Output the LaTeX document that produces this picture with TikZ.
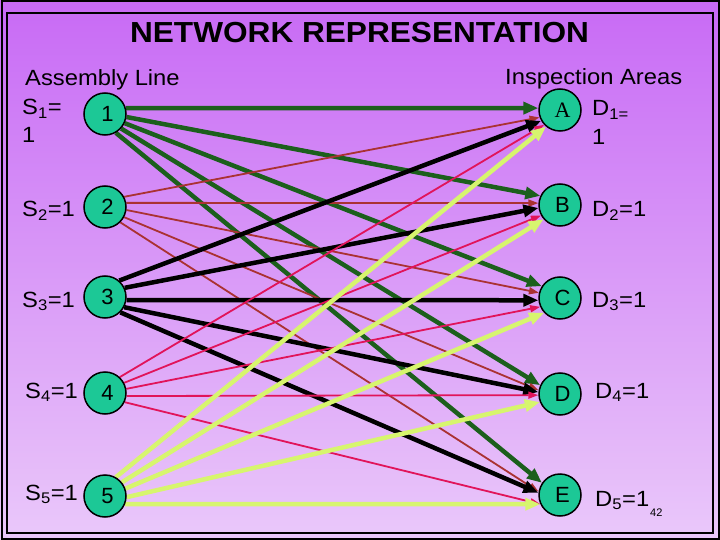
\documentclass[tikz,border=0pt]{standalone}
\usepackage{fontspec}
\setmainfont{Liberation Sans}
\newfontfamily\serifA{Liberation Serif}
\usetikzlibrary{arrows.meta}
\pgfdeclarelayer{bg}
\pgfdeclarelayer{edges}
\pgfsetlayers{bg,edges,main}
\definecolor{bgtop}{RGB}{200,106,245}
\definecolor{bgbot}{RGB}{234,200,250}
\definecolor{nodefill}{RGB}{28,200,150}
\definecolor{edgegreen}{RGB}{28,95,28}
\definecolor{edgebrown}{RGB}{170,50,50}
\definecolor{edgepink}{RGB}{225,20,90}
\definecolor{edgeyellow}{RGB}{215,245,110}
\newcommand{\ntxt}[1]{\mbox{\hspace{5pt}\raisebox{-3pt}{#1}}}
\newcommand{\wx}[1]{\scalebox{1.08}[1]{#1}}
\tikzset{
  vtx/.style={circle,draw=black,line width=1.5pt,fill=nodefill,minimum size=42pt,inner sep=0pt,font=\fontsize{22}{22}\selectfont},
  lbl/.style={font=\fontsize{22}{26}\selectfont,inner sep=0pt,anchor=base west},
  thk/.style={line width=4.5pt,-{Triangle[length=15pt,width=12pt]}},
  thn/.style={line width=1.8pt,-{Triangle[length=10pt,width=7pt]}},
  eg/.style={thk,draw=edgegreen},
  eb/.style={thn,draw=edgebrown},
  ek/.style={thk,draw=black},
  ep/.style={thn,draw=edgepink},
  ey/.style={thk,draw=edgeyellow},
}
\begin{document}
\begin{tikzpicture}[x=1pt,y=-1pt]
\useasboundingbox (0,0) rectangle (720,540);
\begin{pgfonlayer}{bg}
\shade[top color=bgtop,bottom color=bgbot] (0,0) rectangle (720,540);
\draw[line width=2pt] (1.5,1.5) rectangle (718.5,538.5);
\draw[line width=2pt] (7,13) rectangle (713,533);
\end{pgfonlayer}

\node[anchor=base,inner sep=0pt,font=\fontsize{29}{32}\selectfont\bfseries] (title) at (359.5,43) {\scalebox{1.09}[1]{NETWORK REPRESENTATION}};
\node[lbl] (asm) at (25,86) {\wx{Assembly Line}};
\node[lbl] (insp) at (505,85) {\wx{Inspection Areas}};

\node[vtx] (n1) at (105,114) {\ntxt{1}};
\node[vtx] (n2) at (105,207) {\ntxt{2}};
\node[vtx] (n3) at (105,297) {\ntxt{3}};
\node[vtx] (n4) at (105,393) {\ntxt{4}};
\node[vtx] (n5) at (105,496) {\ntxt{5}};
\node[vtx] (A) at (560,110) {\ntxt{\serifA A}};
\node[vtx] (B) at (560,205) {\ntxt{B}};
\node[vtx] (C) at (560,298) {\ntxt{C}};
\node[vtx] (D) at (560,394) {\ntxt{D}};
\node[vtx] (E) at (560,495) {\ntxt{E}};

\node[lbl] (s1a) at (22,115) {\wx{S\textsubscript{1}=}};
\node[lbl] (s1b) at (22,143) {\wx{1}};
\node[lbl] (s2) at (22,217) {\wx{S\textsubscript{2}=1}};
\node[lbl] (s3) at (22,307) {\wx{S\textsubscript{3}=1}};
\node[lbl] (s4) at (25,398) {\wx{S\textsubscript{4}=1}};
\node[lbl] (s5) at (25,500) {\wx{S\textsubscript{5}=1}};
\node[lbl] (d1a) at (592,116) {\wx{D\textsubscript{1=}}};
\node[lbl] (d1b) at (592,145) {\wx{1}};
\node[lbl] (d2) at (592,217) {\wx{D\textsubscript{2}=1}};
\node[lbl] (d3) at (592,307) {\wx{D\textsubscript{3}=1}};
\node[lbl] (d4) at (595,398) {\wx{D\textsubscript{4}=1}};
\node[lbl] (d5) at (595,506) {\wx{D\textsubscript{5}=1}};
\node[inner sep=0pt,anchor=base west,font=\fontsize{11}{12}\selectfont] (pg) at (650,516) {42};

\begin{pgfonlayer}{edges}
% from 1 (green)
\draw[eg] (n1.16) -- (A.175);
\draw[eg] (n1.-8) -- (B.155);
\draw[eg] (n1.-25) -- (C.147);
\draw[eg] (n1.-42) -- (D.156);
\draw[eg] (n1.-60) -- (E.146);
% from 2 (brown)
\draw[eb] (n2.28) -- (A.200);
\draw[eb] (n2.11) -- (B.175);
\draw[eb] (n2.-8) -- (C.166);
\draw[eb] (n2.-28) -- (D.170);
\draw[eb] (n2.-45) -- (E.171);
% from 3 (black)
\draw[ek] (n3.49) -- (A.210);
\draw[ek] (n3.25) -- (B.188);
\draw[ek] (n3.-8) -- (C.186);
\draw[ek] (n3.-28) -- (D.175);
\draw[ek] (n3.-45) -- (E.174);
% from 4 (pink)
\draw[ep] (n4.47) -- (A.223);
\draw[ep] (n4.28) -- (B.209);
\draw[ep] (n4.11) -- (C.204);
\draw[ep] (n4.-8) -- (D.183);
\draw[ep] (n4.-25) -- (E.205);
% from 5 (yellow)
\draw[ey] (n5.60) -- (A.230);
\draw[ey] (n5.39) -- (B.221);
\draw[ey] (n5.20) -- (C.223);
\draw[ey] (n5.-3) -- (D.202);
\draw[ey] (n5.-22) -- (E.205);
\end{pgfonlayer}
\end{tikzpicture}
\end{document}
